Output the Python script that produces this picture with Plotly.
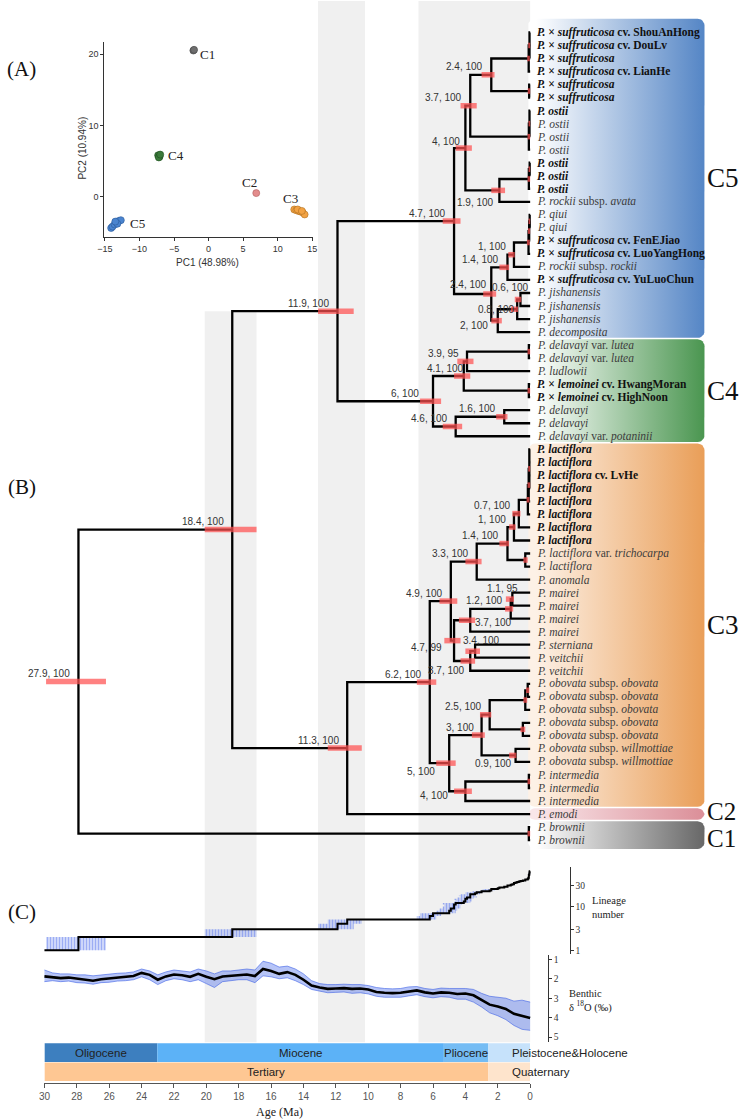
import math
import plotly.graph_objects as go

# ===================== DATA =====================
TIP_LABELS = [
    "P. × suffruticosa cv. ShouAnHong", "P. × suffruticosa cv. DouLv", "P. × suffruticosa",
    "P. × suffruticosa cv. LianHe", "P. × suffruticosa", "P. × suffruticosa",
    "P. ostii", "P. ostii", "P. ostii", "P. ostii",
    "P. ostii", "P. ostii", "P. ostii",
    "P. rockii subsp. avata", "P. qiui", "P. qiui",
    "P. × suffruticosa cv. FenEJiao", "P. × suffruticosa cv. LuoYangHong",
    "P. rockii subsp. rockii", "P. × suffruticosa cv. YuLuoChun",
    "P. jishanensis", "P. jishanensis", "P. jishanensis", "P. decomposita",
    "P. delavayi var. lutea", "P. delavayi var. lutea", "P. ludlowii",
    "P. × lemoinei cv. HwangMoran", "P. × lemoinei cv. HighNoon",
    "P. delavayi", "P. delavayi", "P. delavayi var. potaninii",
    "P. lactiflora", "P. lactiflora", "P. lactiflora cv. LvHe", "P. lactiflora",
    "P. lactiflora", "P. lactiflora", "P. lactiflora", "P. lactiflora",
    "P. lactiflora var. trichocarpa", "P. lactiflora", "P. anomala",
    "P. mairei", "P. mairei", "P. mairei", "P. mairei",
    "P. sterniana", "P. veitchii", "P. veitchii",
    "P. obovata subsp. obovata", "P. obovata subsp. obovata", "P. obovata subsp. obovata",
    "P. obovata subsp. obovata", "P. obovata subsp. obovata",
    "P. obovata subsp. willmottiae", "P. obovata subsp. willmottiae",
    "P. intermedia", "P. intermedia", "P. intermedia",
    "P. emodi", "P. brownii", "P. brownii",
]
TIP_BOLD = ([1] * 6 + [1, 0, 0, 0] + [1, 1, 1] + [0] + [0, 0] + [1, 1, 0, 1] + [0, 0, 0, 0]
            + [0, 0, 0, 1, 1, 0, 0, 0] + [1] * 8 + [0] * 23)

CLADE_NAMES = ["C5", "C4", "C3", "C2", "C1"]
CLADE_FIRST_TIP = [0, 24, 32, 60, 61]
CLADE_LAST_TIP = [23, 31, 59, 60, 62]

# internal nodes: (id, children, age Ma, HPD old, HPD young, support label)
NODES_C5 = [
    ("c5_sah", [0, 1, 2], 0.04, 0.12, 0.0, None),
    ("c5_x", ["c5_sah", 3], 0.09, 0.18, 0.02, None),
    ("c5_sp", [4, 5], 0.06, 0.15, 0.0, None),
    ("c5_24a", ["c5_x", "c5_sp"], 2.4, 3.0, 2.2, "2.4, 100"),
    ("c5_os3", [6, 7, 8], 0.04, 0.1, 0.0, None),
    ("c5_os", ["c5_os3", 9], 0.08, 0.16, 0.0, None),
    ("c5_37", ["c5_24a", "c5_os"], 3.7, 4.3, 3.3, "3.7, 100"),
    ("c5_ob2", [10, 11], 0.03, 0.1, 0.0, None),
    ("c5_ob", ["c5_ob2", 12], 0.08, 0.16, 0.0, None),
    ("c5_19", ["c5_ob", 13], 1.9, 2.4, 1.55, "1.9, 100"),
    ("c5_4", ["c5_37", "c5_19"], 4.0, 4.6, 3.6, "4, 100"),
    ("c5_q2", [14, 15], 0.03, 0.1, 0.0, None),
    ("c5_q3", ["c5_q2", 16], 0.06, 0.14, 0.0, None),
    ("c5_q4", ["c5_q3", 17], 0.1, 0.2, 0.02, None),
    ("c5_1", ["c5_q4", 18], 1.0, 1.35, 0.95, "1, 100"),
    ("c5_14", ["c5_1", 19], 1.4, 1.9, 1.3, "1.4, 100"),
    ("c5_06", [20, 21], 0.6, 0.95, 0.55, "0.6, 100"),
    ("c5_08", ["c5_06", 22], 0.8, 1.2, 0.75, "0.8, 100"),
    ("c5_2", ["c5_08", 23], 2.0, 2.4, 1.75, "2, 100"),
    ("c5_24b", ["c5_14", "c5_2"], 2.4, 2.9, 2.1, "2.4, 100"),
    ("c5_47", ["c5_4", "c5_24b"], 4.7, 5.4, 4.3, "4.7, 100"),
]
NODES_C4 = [
    ("c4_lu", [24, 25], 0.08, 0.16, 0.0, None),
    ("c4_39", ["c4_lu", 26], 3.9, 4.5, 3.5, "3.9, 95"),
    ("c4_le", [27, 28], 0.08, 0.16, 0.0, None),
    ("c4_41", ["c4_39", "c4_le"], 4.1, 4.7, 3.7, "4.1, 100"),
    ("c4_16", [29, 30], 1.6, 2.1, 1.4, "1.6, 100"),
    ("c4_46", ["c4_16", 31], 4.6, 5.4, 4.2, "4.6, 100"),
    ("c4_6", ["c4_41", "c4_46"], 6.0, 6.8, 5.5, "6, 100"),
]
NODES_C3 = [
    ("c3_l4", [32, 33, 34, 35], 0.05, 0.12, 0.0, None),
    ("c3_l5", ["c3_l4", 36], 0.09, 0.16, 0.0, None),
    ("c3_a", ["c3_l5", 37], 0.14, 0.22, 0.04, None),
    ("c3_07", ["c3_a", 38], 0.7, 1.1, 0.6, "0.7, 100"),
    ("c3_1", ["c3_07", 39], 1.0, 1.3, 0.9, "1, 100"),
    ("c3_tr", [40, 41], 0.3, 0.42, 0.15, None),
    ("c3_14", ["c3_1", "c3_tr"], 1.4, 1.9, 1.3, "1.4, 100"),
    ("c3_33", ["c3_14", 42], 3.3, 4.0, 3.0, "3.3, 100"),
    ("c3_11", [43, 44], 1.1, 1.5, 1.0, "1.1, 95"),
    ("c3_12", ["c3_11", 45], 1.2, 1.55, 1.05, "1.2, 100"),
    ("c3_37a", ["c3_12", 46], 3.7, 4.4, 3.4, "3.7, 100"),
    ("c3_34", [47, 48], 3.4, 4.0, 3.1, "3.4, 100"),
    ("c3_37b", ["c3_34", 49], 3.7, 4.3, 3.4, "3.7, 100"),
    ("c3_47", ["c3_37a", "c3_37b"], 4.7, 5.3, 4.3, "4.7, 99"),
    ("c3_49", ["c3_33", "c3_47"], 4.9, 5.6, 4.5, "4.9, 100"),
    ("c3_o2", [50, 51], 0.15, 0.25, 0.05, None),
    ("c3_oa", ["c3_o2", 52], 0.3, 0.42, 0.18, None),
    ("c3_ob", [53, 54], 0.45, 0.6, 0.3, None),
    ("c3_25", ["c3_oa", "c3_ob"], 2.5, 3.1, 2.4, "2.5, 100"),
    ("c3_09", [55, 56], 0.9, 1.3, 0.85, "0.9, 100"),
    ("c3_3", ["c3_25", "c3_09"], 3.0, 3.6, 2.8, "3, 100"),
    ("c3_in", [57, 58], 0.08, 0.16, 0.0, None),
    ("c3_4", ["c3_in", 59], 4.0, 4.7, 3.6, "4, 100"),
    ("c3_5", ["c3_3", "c3_4"], 5.0, 5.8, 4.6, "5, 100"),
    ("c3_62", ["c3_49", "c3_5"], 6.2, 7.0, 5.8, "6.2, 100"),
]
NODES_BACKBONE = [
    ("n113", ["c3_62", 60], 11.3, 12.5, 10.4, "11.3, 100"),
    ("n119", ["c5_47", "c4_6"], 11.9, 13.1, 10.9, "11.9, 100"),
    ("n184", ["n119", "n113"], 18.4, 20.1, 16.9, "18.4, 100"),
    ("c1", [61, 62], 0.08, 0.16, 0.0, None),
    ("root", ["n184", "c1"], 27.9, 29.9, 26.2, "27.9, 100"),
]

# grey time bands (HPD windows), Ma
BAND_OLD = [20.1, 13.1, 6.9]
BAND_YOUNG = [16.9, 10.2, 0.0]

# benthic d18O
D18O_AGE = [30, 29.5, 29, 28.5, 28, 27.5, 27, 26.5, 26, 25.5, 25, 24.5, 24, 23.5, 23, 22.5, 22,
            21.5, 21, 20.5, 20, 19.5, 19, 18.5, 18, 17.5, 17, 16.5, 16, 15.5, 15, 14.5, 14, 13.5,
            13, 12.5, 12, 11.5, 11, 10.5, 10, 9.5, 9, 8.5, 8, 7.5, 7, 6.5, 6, 5.5, 5, 4.5, 4,
            3.5, 3, 2.5, 2, 1.5, 1, 0.5, 0]
D18O_MEAN = [1.88, 1.92, 1.97, 1.94, 2.0, 2.03, 2.1, 2.03, 1.98, 1.93, 1.9, 1.86, 1.7, 1.8,
             2.05, 1.88, 1.78, 1.82, 1.9, 1.75, 1.9, 2.02, 1.88, 1.85, 1.8, 1.78, 1.86, 1.5, 1.6,
             1.75, 1.66, 1.8, 2.05, 2.35, 2.45, 2.52, 2.5, 2.48, 2.52, 2.5, 2.55, 2.68, 2.72,
             2.74, 2.72, 2.66, 2.6, 2.7, 2.76, 2.7, 2.72, 2.78, 2.76, 2.85, 3.1, 3.33, 3.43,
             3.55, 3.8, 3.93, 4.02]
D18O_TOP = [1.55, 1.7, 1.75, 1.75, 1.8, 1.8, 1.85, 1.8, 1.75, 1.72, 1.7, 1.65, 1.5, 1.6, 1.8,
            1.65, 1.55, 1.6, 1.65, 1.5, 1.6, 1.75, 1.6, 1.6, 1.55, 1.5, 1.55, 1.1, 1.2, 1.4,
            1.35, 1.5, 1.75, 2.1, 2.25, 2.3, 2.3, 2.28, 2.3, 2.3, 2.35, 2.45, 2.5, 2.52, 2.5,
            2.42, 2.4, 2.5, 2.55, 2.48, 2.5, 2.5, 2.5, 2.55, 2.75, 2.9, 2.95, 3.0, 3.15, 3.1,
            3.2]
D18O_BOTTOM = [2.15, 2.1, 2.15, 2.12, 2.2, 2.22, 2.28, 2.2, 2.18, 2.12, 2.1, 2.05, 1.9, 2.05,
               2.3, 2.1, 2.0, 2.05, 2.15, 2.05, 2.25, 2.45, 2.15, 2.1, 2.05, 2.05, 2.2, 1.85,
               1.9, 2.0, 1.95, 2.1, 2.3, 2.55, 2.65, 2.72, 2.7, 2.68, 2.75, 2.72, 2.78, 2.9,
               2.95, 2.95, 2.95, 2.88, 2.82, 2.92, 2.98, 2.92, 2.95, 3.05, 3.05, 3.2, 3.45,
               3.75, 3.9, 4.1, 4.4, 4.6, 4.65]

EPOCH_NAMES = ["Oligocene", "Miocene", "Pliocene", "Pleistocene&Holocene"]
EPOCH_START = [30, 23.03, 5.33, 2.58]
EPOCH_END = [23.03, 5.33, 2.58, 0]
ERA_NAMES = ["Tertiary", "Quaternary"]
ERA_START = [30, 2.58]
ERA_END = [2.58, 0]

LTT_TICKS = [1, 3, 10, 30]
D18O_TICKS = [1, 2, 3, 4, 5]
AGE_TICKS = list(range(0, 31, 2))

PCA_GROUPS = ["C1", "C2", "C3", "C4", "C5"]
PCA_PC1 = [[-2.2, -2.1], [6.9],
           [12.4, 12.7, 13.0, 13.3, 13.6, 13.9, 12.9, 13.5],
           [-7.3, -7.1, -7.2, -7.0],
           [-14.1, -13.9, -13.6, -13.3, -13.0, -12.7, -13.2, -13.5]]
PCA_PC2 = [[20.5, 20.6], [0.5],
           [-1.8, -1.9, -2.0, -2.1, -2.2, -2.5, -1.8, -2.0],
           [5.8, 5.6, 5.5, 5.9],
           [-4.4, -4.2, -3.9, -3.6, -3.4, -3.3, -3.8, -3.5]]
PCA_X_TICKS = [-15, -10, -5, 0, 5, 10, 15]
PCA_Y_TICKS = [0, 10, 20]

# ===================== STYLE / GEOMETRY =====================
W, H = 744, 1119
X0 = 531.0       # pixel of age 0
PXMA = 16.433    # pixels per Ma
ROW0 = 31.5      # pixel of first tip row
ROWH = 13.05     # pixel per tip row

SERIF = "Liberation Serif, Times New Roman, serif"
SANS = "Liberation Sans, Arial, sans-serif"

BOX_LEFT = {"C5": "#ffffff", "C4": "#ffffff", "C3": "#fdf1e6", "C2": "#f9e6e9", "C1": "#ffffff"}
BOX_RIGHT = {"C5": "#4a7ec2", "C4": "#3f8f45", "C3": "#e8994f", "C2": "#d98993", "C1": "#5e5e5e"}
BOX_EXTRA_TOP = {"C5": 8.0}
BOX_EXTRA_BOTTOM = {"C1": 3.0}
CLADE_LABEL_DY = {"C2": -2.5, "C1": 3.0}
CLADE_LABEL_SIZE = {"C2": 25, "C1": 25}
PCA_COLORS = {"C1": "#6e6e6e", "C2": "#e38c8c", "C3": "#f2a243", "C4": "#3b7a3b", "C5": "#4a84cf"}
PCA_EDGE = {"C1": "#444", "C2": "#b06060", "C3": "#b07020", "C4": "#1f4f1f", "C5": "#2a5a9a"}
PCA_LABEL_POS = {"C1": (-1.5, 20.0, "left"), "C4": (-6.1, 5.75, "left"), "C2": (5.9, 2.0, "center"),
                 "C3": (11.8, -0.2, "center"), "C5": (-11.6, -3.7, "left")}

# node label placement: (anchor, dx px, dy px) ; dy positive = down
LABEL_STYLE = {
    "c3_11": ("right", 6, -11), "c4_41": ("right", 0, -8), "c5_06": ("right", 9, -12),
    "c3_34": ("right", 25, -11), "c3_37a": ("left", 5, 2), "c5_08": ("right", -2, 0),
    "c4_6": ("right", -14, -8), "c5_19": ("right", -5, 12), "c5_2": ("right", -10, 5),
    "c3_5": ("right", -14, 8), "c3_4": ("right", -17, 4), "c3_09": ("right", -4, 8),
    "c3_37b": ("right", -5, 10), "c3_47": ("right", -12, 7), "c5_4": ("right", -5, -7),
    "c5_24b": ("right", -4, -9),
}


def age_of_px(px):
    return (X0 - px) / PXMA


def row_of_px(py):
    return (py - ROW0) / ROWH


def py_of_row(r):
    return ROW0 + ROWH * r


def pap(py):
    return 1 - py / H


def papx(px):
    return px / W


# ===================== TREE LAYOUT =====================
nodes = {}
for group in (NODES_C5, NODES_C4, NODES_C3, NODES_BACKBONE):
    for nid, ch, age, ho, hy, lab in group:
        nodes[nid] = dict(id=nid, children=ch, age=age, ho=ho, hy=hy, lab=lab)


def ypos(c):
    if isinstance(c, int):
        return float(c)
    n = nodes[c]
    if "y" not in n:
        ys = [ypos(k) for k in n["children"]]
        n["y"] = (ys[0] + ys[-1]) / 2
    return n["y"]


def xage(c):
    return 0.0 if isinstance(c, int) else nodes[c]["age"]


for nid in nodes:
    ypos(nid)

bx, by = [], []
for n in nodes.values():
    ch = n["children"]
    a = n["age"]
    first, last = ch[0], ch[-1]
    bx += [xage(first), a, a, xage(last), None]
    by += [ypos(first), ypos(first), ypos(last), ypos(last), None]
    for c in ch[1:-1]:
        bx += [a, xage(c), None]
        by += [ypos(c), ypos(c), None]

hx, hyv = [], []
for n in nodes.values():
    hx += [n["ho"], n["hy"], None]
    hyv += [n["y"], n["y"], None]

# LTT derived from the node ages
events = sorted(nodes.values(), key=lambda n: -n["age"])
count = 1
ltt_x, ltt_y = [30.0], [1]
rect_x, rect_y = [], []
for n in events:
    add = len(n["children"]) - 1
    rect_x += [n["ho"], n["hy"], n["hy"], n["ho"], n["ho"], None]
    rect_y += [count, count, count + add, count + add, count, None]
    count += add
    ltt_x.append(n["age"])
    ltt_y.append(count)
ltt_x.append(0.0)
ltt_y.append(count)

fig = go.Figure()

# clade boxes with horizontal gradient and rounded corners
BOX_PX0, BOX_PX1, RAD = 529.0, 708.0, 7.0


def rounded_box(px0, px1, py0, py1, r=RAD, n=6):
    pts = []
    corners = [(px1 - r, py0 + r, -90, 0), (px1 - r, py1 - r, 0, 90),
               (px0 + r, py1 - r, 90, 180), (px0 + r, py0 + r, 180, 270)]
    for cx, cy, a0, a1 in corners:
        for k in range(n + 1):
            ang = math.radians(a0 + (a1 - a0) * k / n)
            pts.append((cx + r * math.cos(ang), cy + r * math.sin(ang)))
    pts.append(pts[0])
    return [age_of_px(p[0]) for p in pts], [row_of_px(p[1]) for p in pts]


annotations = []
shapes = []
for name, f, l in zip(CLADE_NAMES, CLADE_FIRST_TIP, CLADE_LAST_TIP):
    top = py_of_row(f) - ROWH / 2 + 0.7 - BOX_EXTRA_TOP.get(name, 0)
    bot = py_of_row(l) + ROWH / 2 - 0.7 + BOX_EXTRA_BOTTOM.get(name, 0)
    xs, ys = rounded_box(BOX_PX0, BOX_PX1, top, bot)
    fig.add_trace(go.Scatter(
        x=xs, y=ys, mode="lines", line=dict(width=0), fill="toself",
        fillgradient=dict(type="horizontal",
                          colorscale=[[0, BOX_LEFT[name]], [1, BOX_RIGHT[name]]],
                          start=age_of_px(BOX_PX0), stop=age_of_px(BOX_PX1)),
        hoverinfo="skip", showlegend=False, xaxis="x", yaxis="y"))
    cy = (top + bot) / 2 + CLADE_LABEL_DY.get(name, 0)
    annotations.append(dict(x=age_of_px(708), y=row_of_px(cy), xref="x", yref="y",
                            text=name, showarrow=False, xanchor="left", yanchor="middle",
                            font=dict(family=SERIF, size=CLADE_LABEL_SIZE.get(name, 27), color="#111")))

# tree branches and HPD bars
fig.add_trace(go.Scatter(x=bx, y=by, mode="lines", line=dict(color="black", width=2.3),
                         hoverinfo="skip", showlegend=False, xaxis="x", yaxis="y"))
fig.add_trace(go.Scatter(x=hx, y=hyv, mode="lines", line=dict(color="rgba(255,80,80,0.72)", width=5.5),
                         hoverinfo="skip", showlegend=False, xaxis="x", yaxis="y"))


def fmt_tip(name, bold):
    out, upright = [], False
    for t in name.split(" "):
        if t in ("×", "subsp.", "var."):
            out.append(t)
        elif t == "cv.":
            out.append(t)
            upright = True
        elif upright:
            out.append(t)
        else:
            out.append("<i>" + t + "</i>")
    s = " ".join(out)
    return "<b>" + s + "</b>" if bold else s


for i, (nm, b) in enumerate(zip(TIP_LABELS, TIP_BOLD)):
    annotations.append(dict(x=0, y=i, xref="x", yref="y", text=fmt_tip(nm, b), showarrow=False,
                            xanchor="left", yanchor="middle", xshift=5,
                            font=dict(family=SERIF, size=11.5, color="#111" if b else "#3c3c3c")))

for n in nodes.values():
    if not n["lab"]:
        continue
    anc, dx, dy = LABEL_STYLE.get(n["id"], ("right", -8, -8))
    annotations.append(dict(x=n["age"], y=n["y"], xref="x", yref="y", text=n["lab"], showarrow=False,
                            xanchor=anc, yanchor="middle", xshift=dx + (2 if anc == "right" else -2),
                            yshift=-dy, font=dict(family=SANS, size=10, color="#333")))

# grey bands
band_tops = [py_of_row(nodes["n119"]["y"]), 0, 0]
for o, yng, t in zip(BAND_OLD, BAND_YOUNG, band_tops):
    shapes.append(dict(type="rect", xref="x", yref="paper", x0=o, x1=yng, y0=pap(1043), y1=pap(t),
                       fillcolor="#f0f0f0", line=dict(width=0), layer="below"))

# LTT
fig.add_trace(go.Scatter(x=rect_x, y=rect_y, mode="lines", line=dict(width=0), fill="toself",
                         fillcolor="rgba(0,0,0,0)",
                         fillpattern=dict(shape="|", fgcolor="rgba(75,105,235,0.95)",
                                          bgcolor="rgba(150,170,245,0.25)", size=3, solidity=0.55),
                         hoverinfo="skip", showlegend=False, xaxis="x", yaxis="y2"))
fig.add_trace(go.Scatter(x=ltt_x, y=ltt_y, mode="lines", line=dict(color="black", width=2, shape="hv"),
                         hoverinfo="skip", showlegend=False, xaxis="x", yaxis="y2"))

# d18O
fig.add_trace(go.Scatter(x=D18O_AGE, y=D18O_TOP, mode="lines",
                         line=dict(color="rgba(60,95,230,0.75)", width=0.8),
                         hoverinfo="skip", showlegend=False, xaxis="x", yaxis="y3"))
fig.add_trace(go.Scatter(x=D18O_AGE, y=D18O_BOTTOM, mode="lines",
                         line=dict(color="rgba(60,95,230,0.75)", width=0.8),
                         fill="tonexty", fillcolor="rgba(80,115,235,0.42)",
                         hoverinfo="skip", showlegend=False, xaxis="x", yaxis="y3"))
fig.add_trace(go.Scatter(x=D18O_AGE, y=D18O_MEAN, mode="lines", line=dict(color="black", width=2.6),
                         hoverinfo="skip", showlegend=False, xaxis="x", yaxis="y3"))

# epochs / eras on bottom axis (y4: value = 1084 - pixel)
EPOCH_COLORS = ["#3d7fbf", "#5cb2f7", "#74bcf4", "#c6e2fb"]
ERA_COLORS = ["#fec793", "#fee4cc"]
for s, e, c in zip(EPOCH_START, EPOCH_END, EPOCH_COLORS):
    shapes.append(dict(type="rect", xref="x2", yref="y4", x0=s, x1=e, y0=21, y1=40,
                       fillcolor=c, line=dict(width=0), layer="above"))
for s, e, c in zip(ERA_START, ERA_END, ERA_COLORS):
    shapes.append(dict(type="rect", xref="x2", yref="y4", x0=s, x1=e, y0=2, y1=20.5,
                       fillcolor=c, line=dict(width=0), layer="above"))
for nm, s, e in zip(EPOCH_NAMES, EPOCH_START, EPOCH_END):
    if e == 0:
        annotations.append(dict(x=1.25, y=30.5, xref="x2", yref="y4", text=nm, showarrow=False,
                                xanchor="left", yanchor="middle", font=dict(family=SANS, size=11.5, color="#222")))
    else:
        annotations.append(dict(x=(s + e) / 2, y=30.5, xref="x2", yref="y4", text=nm, showarrow=False,
                                xanchor="center", yanchor="middle", font=dict(family=SANS, size=11.5, color="#222")))
for nm, s, e in zip(ERA_NAMES, ERA_START, ERA_END):
    if e == 0:
        annotations.append(dict(x=1.25, y=11.25, xref="x2", yref="y4", text=nm, showarrow=False,
                                xanchor="left", yanchor="middle", font=dict(family=SANS, size=11.5, color="#222")))
    else:
        annotations.append(dict(x=(s + e) / 2, y=11.25, xref="x2", yref="y4", text=nm, showarrow=False,
                                xanchor="center", yanchor="middle", font=dict(family=SANS, size=11.5, color="#222")))
fig.add_trace(go.Scatter(x=[30, 0], y=[0, 0], mode="markers", marker=dict(opacity=0),
                         hoverinfo="skip", showlegend=False, xaxis="x2", yaxis="y4"))

# PCA inset
for g, xs, ys in zip(PCA_GROUPS, PCA_PC1, PCA_PC2):
    fig.add_trace(go.Scatter(x=xs, y=ys, mode="markers",
                             marker=dict(size=7, color=PCA_COLORS[g], line=dict(color=PCA_EDGE[g], width=0.6)),
                             hoverinfo="skip", showlegend=False, xaxis="x3", yaxis="y5"))
    lx, ly, la = PCA_LABEL_POS[g]
    annotations.append(dict(x=lx, y=ly, xref="x3", yref="y5", text=g, showarrow=False,
                            xanchor=la, yanchor="middle", font=dict(family=SERIF, size=13, color="#222")))
annotations.append(dict(x=papx(204), y=pap(262), xref="paper", yref="paper", text="PC1 (48.98%)",
                        showarrow=False, xanchor="center", yanchor="middle",
                        font=dict(family=SANS, size=10, color="#333")))
annotations.append(dict(x=papx(77), y=pap(147), xref="paper", yref="paper", text="PC2 (10.94%)",
                        showarrow=False, xanchor="center", yanchor="middle", textangle=-90,
                        font=dict(family=SANS, size=10, color="#333")))

# panel letters and axis titles
for letter, py in (("(A)", 68), ("(B)", 487), ("(C)", 913)):
    annotations.append(dict(x=papx(15), y=pap(py), xref="paper", yref="paper", text=letter,
                            showarrow=False, xanchor="center", yanchor="middle",
                            font=dict(family=SERIF, size=21, color="#111")))
annotations.append(dict(x=papx(611), y=pap(908), xref="paper", yref="paper", text="Lineage<br>number",
                        showarrow=False, xanchor="center", yanchor="middle", align="left",
                        font=dict(family=SERIF, size=10.5, color="#222")))
annotations.append(dict(x=papx(568), y=pap(1002), xref="paper", yref="paper",
                        text="Benthic<br>δ <sup>18</sup>O (‰)",
                        showarrow=False, xanchor="left", yanchor="middle", align="left",
                        font=dict(family=SERIF, size=10.5, color="#222")))
annotations.append(dict(x=15.5, y=pap(1113), xref="x2", yref="paper", text="Age (Ma)",
                        showarrow=False, xanchor="center", yanchor="middle",
                        font=dict(family=SERIF, size=12, color="#222")))

hidden = dict(visible=False, showgrid=False, zeroline=False)
fig.update_layout(
    width=W, height=H, autosize=False,
    margin=dict(l=0, r=0, t=0, b=0),
    paper_bgcolor="white", plot_bgcolor="rgba(0,0,0,0)",
    showlegend=False, hovermode=False,
    font=dict(family=SANS, color="#333"),
    xaxis=dict(domain=[0, 1], range=[age_of_px(0), age_of_px(W)], **hidden),
    yaxis=dict(domain=[0, 1], range=[row_of_px(H), row_of_px(0)], **hidden),
    yaxis2=dict(domain=[pap(955), pap(868)], type="log", range=[-4 / 44, 83 / 44],
                anchor="free", position=papx(571), side="right", showline=True, linecolor="#333",
                linewidth=1, ticks="outside", ticklen=3, tickcolor="#333", tickvals=LTT_TICKS,
                tickfont=dict(family=SERIF, size=9.5, color="#333"), showgrid=False, zeroline=False),
    yaxis3=dict(domain=[pap(1043), pap(956)], range=[1 + 83 / 19.5, 1 - 4 / 19.5],
                anchor="free", position=papx(549), side="right", showline=True, linecolor="#333",
                linewidth=1, ticks="outside", ticklen=3, tickcolor="#333", tickvals=D18O_TICKS,
                tickfont=dict(family=SERIF, size=9.5, color="#333"), showgrid=False, zeroline=False),
    xaxis2=dict(domain=[papx(38), papx(X0)], range=[30, 0], anchor="y4", showline=True,
                linecolor="#555", linewidth=1, ticks="outside", ticklen=4, tickcolor="#555",
                tickvals=AGE_TICKS, tickfont=dict(family=SANS, size=10, color="#555"),
                showgrid=False, zeroline=False),
    yaxis4=dict(domain=[pap(1084), pap(1043)], range=[0, 41], anchor="x2", **hidden),
    xaxis3=dict(domain=[papx(98.7), papx(310.5)], range=[-15.1, 15.1], anchor="y5", showline=True,
                linecolor="#333", linewidth=1, ticks="outside", ticklen=3, tickcolor="#333",
                tickvals=PCA_X_TICKS, tickfont=dict(family=SANS, size=9, color="#333"),
                showgrid=False, zeroline=False),
    yaxis5=dict(domain=[pap(236.7), pap(40.7)], range=[-5.7, 21.75], anchor="x3", showline=True,
                linecolor="#333", linewidth=1, ticks="outside", ticklen=3, tickcolor="#333",
                tickvals=PCA_Y_TICKS, tickfont=dict(family=SANS, size=9, color="#333"),
                showgrid=False, zeroline=False),
    shapes=shapes,
    annotations=annotations,
)

fig.write_html(
    "out.html",
    config={"displayModeBar": False, "staticPlot": True},
    post_script="document.body.style.margin='0px';document.body.style.padding='0px';"
                "document.documentElement.style.overflow='hidden';document.body.style.overflow='hidden';",
)
